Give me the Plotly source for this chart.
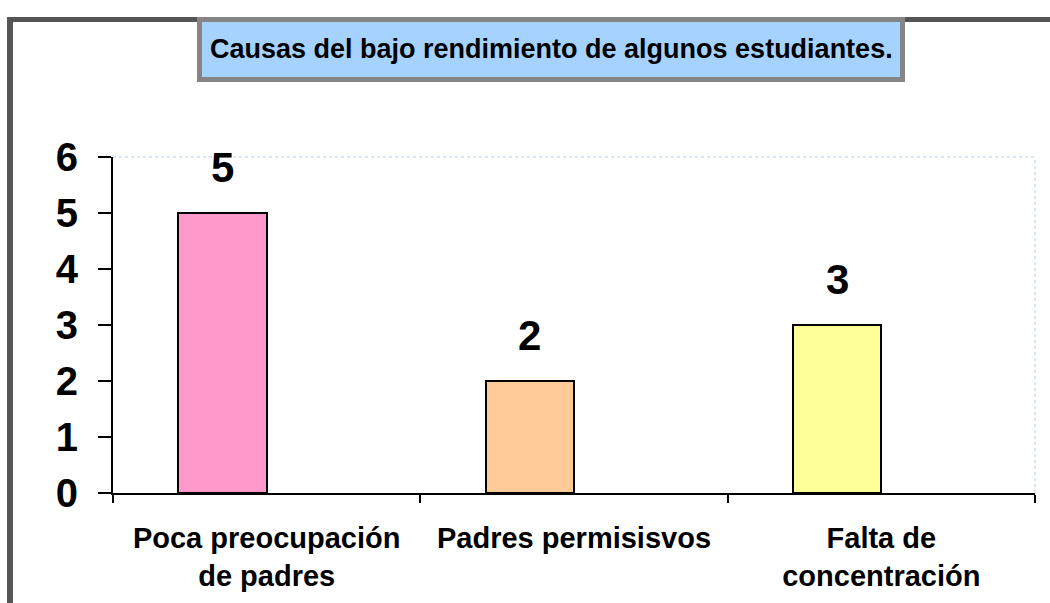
import plotly.graph_objects as go

categories = ["Poca preocupación de padres", "Padres permisisvos", "Falta de concentración"]
tick_labels = ["Poca preocupación<br>de padres", "Padres permisisvos", "Falta de<br>concentración"]
values = [5, 2, 3]
bar_colors = ["#FF99CC", "#FFCC99", "#FFFF99"]
title_text = "Causas del bajo rendimiento de algunos estudiantes."

W, H = 1050, 603
L, R, T, B = 113, 1035, 157, 493
BAR_W = 0.287

def px(x):
    return (x - L) / (R - L)

def py(y):
    return (B - y) / (B - T)

FONT = "Liberation Sans, Arial"
n = len(categories)

fig = go.Figure()
fig.add_trace(go.Bar(
    x=list(range(n)),
    y=values,
    width=BAR_W,
    offset=-BAR_W,
    marker=dict(color=bar_colors, line=dict(color="black", width=2)),
    hovertext=categories,
    hoverinfo="text+y",
))

annotations = []
for i, v in enumerate(values):
    annotations.append(dict(
        x=i - BAR_W / 2, y=v, xref="x", yref="y", text=str(v), showarrow=False,
        yanchor="bottom", yshift=20,
        font=dict(family=FONT, size=42, color="black", weight="bold"),
    ))
annotations.append(dict(
    x=px(551), y=py(49), xref="paper", yref="paper", text=title_text, showarrow=False,
    xanchor="center", yanchor="middle",
    font=dict(family=FONT, size=27, color="black", weight="bold"),
))

shapes = [
    # plot area light border (top, right)
    dict(type="line", xref="paper", yref="paper", x0=0, x1=1, y0=1, y1=1,
         line=dict(color="#C9DFF7", width=1.5, dash="dot"), layer="below"),
    dict(type="line", xref="paper", yref="paper", x0=1, x1=1, y0=0, y1=1,
         line=dict(color="#C9DFF7", width=1.5, dash="dot"), layer="below"),
    # outer frame
    dict(type="rect", xref="paper", yref="paper", x0=px(7), x1=px(13), y0=py(610), y1=py(17),
         fillcolor="#555555", line=dict(width=0)),
    dict(type="rect", xref="paper", yref="paper", x0=px(7), x1=px(1060), y0=py(22), y1=py(17),
         fillcolor="#555555", line=dict(width=0)),
    # title box
    dict(type="rect", xref="paper", yref="paper", x0=px(199.5), x1=px(902.5), y0=py(79.5), y1=py(19.5),
         fillcolor="#A6D2FF", line=dict(color="#858585", width=5)),
]

fig.update_layout(
    width=W, height=H,
    margin=dict(l=L, r=W - R, t=T, b=H - B, pad=0),
    paper_bgcolor="white", plot_bgcolor="white",
    showlegend=False,
    bargap=0,
    annotations=annotations,
    shapes=shapes,
    font=dict(family=FONT, color="black"),
    xaxis=dict(
        tickmode="array", tickvals=list(range(n)), ticktext=tick_labels,
        range=[-0.5, n - 0.5],
        showline=True, linecolor="black", linewidth=2,
        ticks="outside", ticklen=8, tickwidth=2, tickcolor="rgba(0,0,0,0)",
        minor=dict(tickmode="array", tickvals=[i - 0.5 for i in range(n + 1)],
                   ticks="outside", ticklen=8, tickwidth=2, tickcolor="black", showgrid=False),
        showgrid=False, zeroline=False,
        tickfont=dict(family=FONT, size=29, color="black", weight="bold"),
        ticklabelstandoff=10,
    ),
    yaxis=dict(
        range=[0, 6], dtick=1, tick0=0,
        showline=True, linecolor="black", linewidth=2,
        ticks="outside", ticklen=13, tickwidth=2, tickcolor="black",
        showgrid=False, zeroline=False,
        tickfont=dict(family=FONT, size=40, color="black", weight="bold"),
        ticklabelstandoff=12,
    ),
)

fig.write_html("out.html", config={"displayModeBar": False},
               post_script="document.body.style.margin='0px';")
